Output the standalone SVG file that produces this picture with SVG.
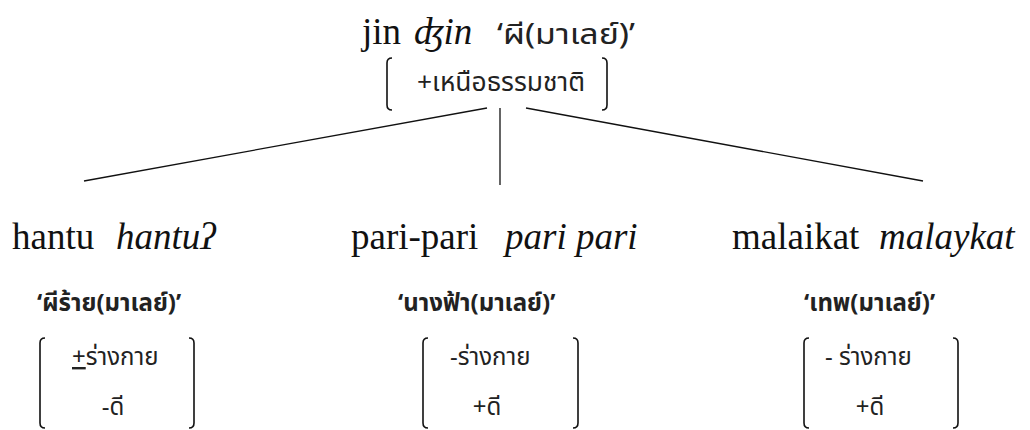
<svg xmlns="http://www.w3.org/2000/svg" width="1030" height="430" viewBox="0 0 1030 430">
  <style>
    .lat { font-family: "Liberation Serif", "Times New Roman", serif; fill: #111; font-size: 37px; }
    .it { font-style: italic; }
    .th { font-family: "Noto Sans Thai", "Noto Sans Thai UI", "Noto Sans", "DejaVu Sans", sans-serif; fill: #222; }
    .thb { font-weight: bold; font-size: 24px; }
    .feat { font-size: 24px; }
    .br { fill: none; stroke: #111; stroke-width: 1.6; }
    .edge { stroke: #111; stroke-width: 1.3; fill: none; }
  </style>
  <rect width="1030" height="430" fill="#fff"/>

  <!-- root: jin -->
  <g id="node-jin">
    <text class="lat" x="362" y="44">jin</text>
    <text class="lat it" x="414" y="44">ʤin</text>
    <text class="th" x="497" y="44" font-size="29" textLength="138" lengthAdjust="spacingAndGlyphs">‘ผี(มาเลย์)’</text>
    <path class="br" d="M392,58 Q387,58 387,63 L387,105 Q387,110 392,110"/>
    <path class="br" d="M602,58 Q607,58 607,63 L607,105 Q607,110 602,110"/>
    <text class="th" x="417" y="91" font-size="26" textLength="168" lengthAdjust="spacingAndGlyphs">+เหนือธรรมชาติ</text>
  </g>

  <!-- branches -->
  <g id="connectors">
    <line class="edge" x1="487" y1="108" x2="84" y2="181"/>
    <line class="edge" x1="500" y1="108" x2="500" y2="185"/>
    <line class="edge" x1="526" y1="108" x2="923" y2="181"/>
  </g>

  <!-- hantu -->
  <g id="node-hantu">
    <text class="lat" x="12" y="249">hantu</text>
    <text class="lat it" x="116" y="249">hantuʔ</text>
    <text class="th thb" x="37" y="311">‘ผีร้าย(มาเลย์)’</text>
    <path class="br" d="M45,338 Q40,338 40,343 L40,423 Q40,428 45,428"/>
    <path class="br" d="M189,338 Q194,338 194,343 L194,423 Q194,428 189,428"/>
    <text class="th feat" x="72" y="365"><tspan text-decoration="underline">+</tspan>ร่างกาย</text>
    <text class="th feat" x="113" y="415" text-anchor="middle">-ดี</text>
  </g>

  <!-- pari-pari -->
  <g id="node-pari">
    <text class="lat" x="351" y="249">pari-pari</text>
    <text class="lat it" x="505" y="249">pari pari</text>
    <text class="th thb" x="398" y="311">‘นางฟ้า(มาเลย์)’</text>
    <path class="br" d="M428,338 Q423,338 423,343 L423,423 Q423,428 428,428"/>
    <path class="br" d="M573,338 Q578,338 578,343 L578,423 Q578,428 573,428"/>
    <text class="th feat" x="450" y="365">-ร่างกาย</text>
    <text class="th feat" x="487" y="415" text-anchor="middle">+ดี</text>
  </g>

  <!-- malaikat -->
  <g id="node-malaikat">
    <text class="lat" x="732" y="249">malaikat</text>
    <text class="lat it" x="879" y="249">malaykat</text>
    <text class="th thb" x="804" y="311">‘เทพ(มาเลย์)’</text>
    <path class="br" d="M809,338 Q804,338 804,343 L804,423 Q804,428 809,428"/>
    <path class="br" d="M953,338 Q958,338 958,343 L958,423 Q958,428 953,428"/>
    <text class="th feat" x="825" y="365">- ร่างกาย</text>
    <text class="th feat" x="870" y="415" text-anchor="middle">+ดี</text>
  </g>
</svg>
